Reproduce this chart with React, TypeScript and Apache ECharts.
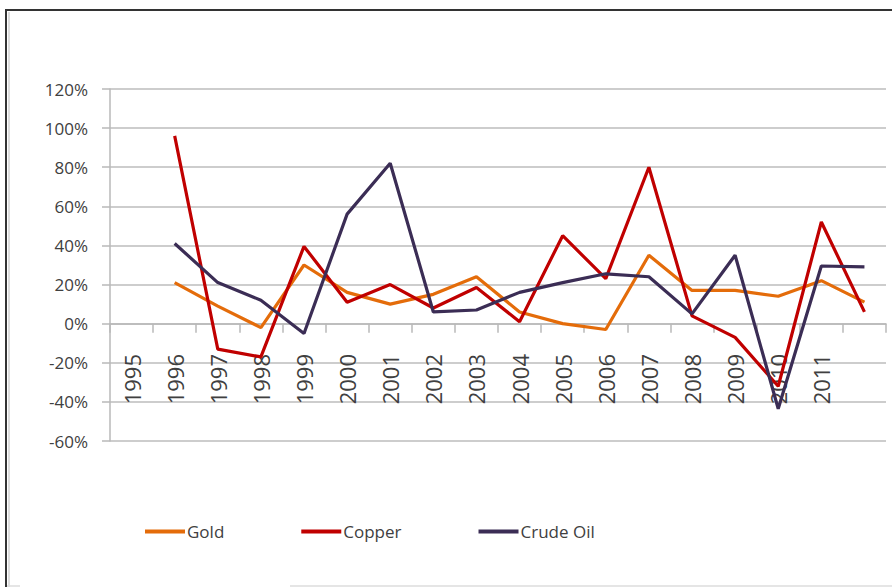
import React, { useEffect, useRef } from "react";
import * as echarts from "echarts";

const categories = ["1995", "1996", "1997", "1998", "1999", "2000", "2001", "2002", "2003", "2004", "2005", "2006", "2007", "2008", "2009", "2010", "2011", ""];
const gold = [null, 21, 9, -2, 30, 16, 10, 15, 24, 6, 0, -3, 35, 17, 17, 14, 22, 11];
const copper = [null, 96, -13, -17, 39.5, 11, 20, 8, 18.5, 1, 45, 23, 80, 4, -7, -32, 52, 6];
const crudeOil = [null, 41, 21, 12, -5, 56, 82, 6, 7, 16, 21, 25.5, 24, 5, 35, -43.5, 29.5, 29];
const yTicks = { min: -60, max: 120, interval: 20 };

const FONT = "'Open Sans', sans-serif";

export default function App() {
  const ref = useRef<HTMLDivElement>(null);
  useEffect(() => {
    if (!ref.current) return;
    const chart = echarts.init(ref.current, null, { renderer: "svg" });
    const mk = (name: string, data: (number | null)[], color: string) => ({
      name,
      type: "line",
      data,
      symbol: "none",
      connectNulls: false,
      lineStyle: { color, width: 3.2 },
      itemStyle: { color },
    });
    chart.setOption({
      animation: false,
      backgroundColor: "#ffffff",
      grid: { left: 110, right: 6, top: 89, bottom: 146, containLabel: false },
      legend: {
        left: 140,
        top: 518,
        itemWidth: 40,
        itemHeight: 4,
        itemGap: 77,
        icon: "rect",
        textStyle: { fontFamily: FONT, fontSize: 17, color: "#404040", padding: [0, 0, 0, -3] },
        data: ["Gold", "Copper", "Crude Oil"],
      },
      xAxis: {
        type: "category",
        data: categories,
        boundaryGap: true,
        axisLine: { onZero: true, lineStyle: { color: "#b8b8b8", width: 1.5 } },
        axisTick: { show: true, length: 9, alignWithLabel: false, interval: 0, lineStyle: { color: "#b8b8b8", width: 1.5 } },
        axisLabel: {
          interval: 0,
          rotate: 90,
          margin: -87,
          fontFamily: FONT,
          fontSize: 22,
          color: "#404040",
        },
        splitLine: { show: false },
      },
      yAxis: {
        type: "value",
        min: yTicks.min,
        max: yTicks.max,
        interval: yTicks.interval,
        axisLine: { show: true, lineStyle: { color: "#b8b8b8", width: 1.5 } },
        axisTick: { show: true, length: 8, lineStyle: { color: "#b8b8b8", width: 1.5 } },
        axisLabel: {
          margin: 22,
          fontFamily: FONT,
          fontSize: 17,
          color: "#404040",
          formatter: (v: number) => `${v}%`,
        },
        splitLine: { show: true, lineStyle: { color: "#bdbdbd", width: 1.5 } },
      },
      series: [
        mk("Gold", gold, "#E46C0A"),
        mk("Copper", copper, "#C00000"),
        mk("Crude Oil", crudeOil, "#3B2D55"),
      ],
      graphic: [
        { type: "line", shape: { x1: 5, y1: 10, x2: 892, y2: 10 }, style: { stroke: "#333333", lineWidth: 2 }, silent: true },
        { type: "line", shape: { x1: 6, y1: 10, x2: 6, y2: 587 }, style: { stroke: "#333333", lineWidth: 2 }, silent: true },
        { type: "line", shape: { x1: 9, y1: 12, x2: 9, y2: 587 }, style: { stroke: "#dddddd", lineWidth: 2 }, silent: true },
        { type: "line", shape: { x1: 7, y1: 586, x2: 20, y2: 586 }, style: { stroke: "#dddddd", lineWidth: 1.5 }, silent: true },
        { type: "line", shape: { x1: 290, y1: 586, x2: 892, y2: 586 }, style: { stroke: "#dddddd", lineWidth: 1.5 }, silent: true },
      ],
    });
    return () => chart.dispose();
  }, []);
  return <div ref={ref} style={{ position: "fixed", left: 0, top: 0, width: 892, height: 587 }} />;
}
